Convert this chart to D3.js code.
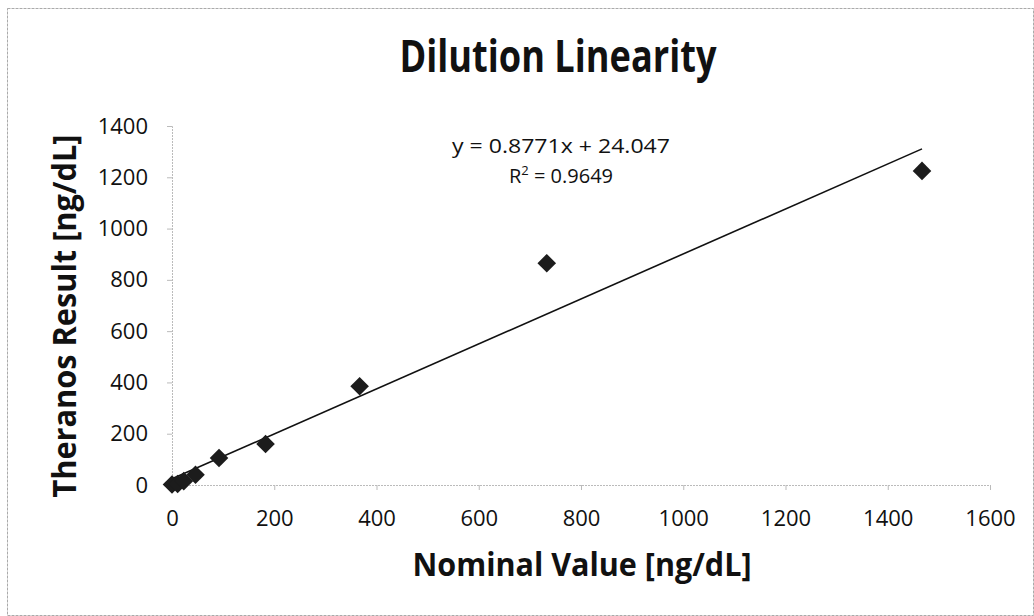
<!DOCTYPE html>
<html>
<head>
<meta charset="utf-8">
<script src="https://cdn.jsdelivr.net/npm/d3@7"></script>
<style>
  body { margin: 0; background: #fff; }
  svg { display: block; }
</style>
</head>
<body>
<div id="vis"></div>
<script>
// values
const nominal = [0, 11, 23, 46, 92, 183, 367, 733, 1467];
const result = [2, 4, 15, 40, 105, 160, 385, 865, 1225];
const xTicks = [0, 200, 400, 600, 800, 1000, 1200, 1400, 1600];
const yTicks = [0, 200, 400, 600, 800, 1000, 1200, 1400];
const slope = 0.8771;
const intercept = 24.047;
const eqText = 'y = 0.8771x + 24.047';
const r2Text = '0.9649';

const width = 1034;
const height = 616;
const margin = { left: 172, right: 44, top: 126, bottom: 131 };
const font = 'Open Sans, sans-serif';

const svg = d3.select('#vis').append('svg')
  .attr('width', width)
  .attr('height', height);

// outer frame
svg.append('rect')
  .attr('x', 7.5).attr('y', 8.5)
  .attr('width', width - 8).attr('height', height - 9)
  .attr('fill', 'none')
  .attr('stroke', '#aaa')
  .attr('stroke-dasharray', '3,1');

const x = d3.scaleLinear().domain([0, 1600]).range([margin.left, width - margin.right]);
const y = d3.scaleLinear().domain([0, 1400]).range([height - margin.bottom, margin.top]);

const xAxis = svg.append('g')
  .attr('transform', `translate(0,${y(0)})`)
  .call(d3.axisBottom(x).tickValues(xTicks).tickFormat(d3.format('d')).tickSize(5).tickPadding(20));

const yAxis = svg.append('g')
  .attr('transform', `translate(${x(0)},0)`)
  .call(d3.axisLeft(y).tickValues(yTicks).tickFormat(d3.format('d')).tickSize(5).tickPadding(19));

[xAxis, yAxis].forEach(g => {
  g.select('.domain').attr('stroke', '#bbb').attr('stroke-dasharray', '2,1');
  g.selectAll('.tick line').attr('stroke', '#bbb');
  g.selectAll('.tick text')
    .attr('font-family', font)
    .attr('font-size', 22)
    .attr('fill', '#111');
});

// trendline over the data range
const lineX = d3.extent(nominal);
svg.append('line')
  .attr('x1', x(lineX[0])).attr('y1', y(slope * lineX[0] + intercept))
  .attr('x2', x(lineX[1])).attr('y2', y(slope * lineX[1] + intercept))
  .attr('stroke', '#111')
  .attr('stroke-width', 1.6);

// diamond markers
const diamond = d3.symbol().type(d3.symbolDiamond2).size(220);
svg.selectAll('.pt')
  .data(nominal.map((v, i) => ({ x: v, y: result[i] })))
  .enter().append('path')
  .attr('class', 'pt')
  .attr('d', diamond)
  .attr('transform', d => `translate(${x(d.x)},${y(d.y)})`)
  .attr('fill', '#1c1c1c');

// equation
svg.append('text')
  .attr('x', 561).attr('y', 153)
  .attr('text-anchor', 'middle')
  .attr('font-family', font)
  .attr('font-size', 20)
  .attr('textLength', 218)
  .attr('lengthAdjust', 'spacingAndGlyphs')
  .attr('fill', '#111')
  .text(eqText);

const r2 = svg.append('text')
  .attr('x', 561).attr('y', 183)
  .attr('text-anchor', 'middle')
  .attr('font-family', font)
  .attr('font-size', 20)
  .attr('fill', '#111');
r2.append('tspan').text('R');
r2.append('tspan').attr('font-size', 13).attr('dy', -8).text('2');
r2.append('tspan').attr('dy', 8).text(' = ' + r2Text);

// title
svg.append('text')
  .attr('x', 558).attr('y', 72)
  .attr('text-anchor', 'middle')
  .attr('font-family', font)
  .attr('font-weight', 'bold')
  .attr('font-size', 45)
  .attr('textLength', 317)
  .attr('lengthAdjust', 'spacingAndGlyphs')
  .attr('fill', '#111')
  .text('Dilution Linearity');

// axis titles
svg.append('text')
  .attr('x', 582).attr('y', 576)
  .attr('text-anchor', 'middle')
  .attr('font-family', font)
  .attr('font-weight', 'bold')
  .attr('font-size', 32)
  .attr('textLength', 339)
  .attr('lengthAdjust', 'spacingAndGlyphs')
  .attr('fill', '#111')
  .text('Nominal Value [ng/dL]');

svg.append('text')
  .attr('transform', 'translate(76,316) rotate(-90)')
  .attr('text-anchor', 'middle')
  .attr('font-family', font)
  .attr('font-weight', 'bold')
  .attr('font-size', 32)
  .attr('textLength', 363)
  .attr('lengthAdjust', 'spacingAndGlyphs')
  .attr('fill', '#111')
  .text('Theranos Result [ng/dL]');
</script>
</body>
</html>
